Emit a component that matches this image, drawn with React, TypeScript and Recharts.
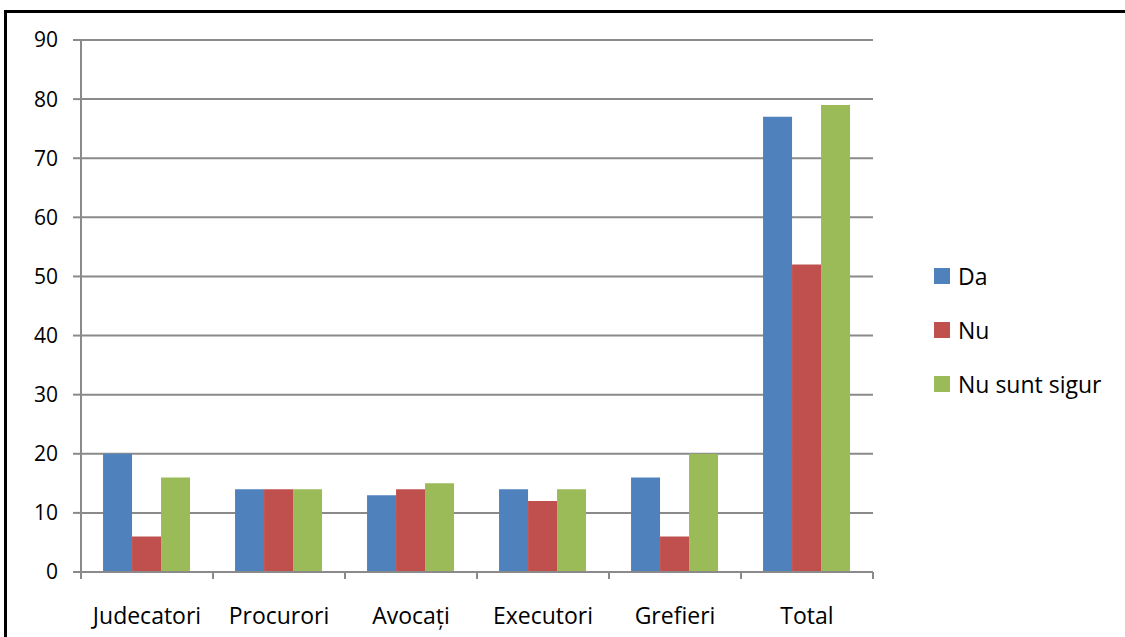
import { BarChart, Bar, XAxis, YAxis, CartesianGrid } from 'recharts'

const categories = ['Judecatori', 'Procurori', 'Avocați', 'Executori', 'Grefieri', 'Total']
const da = [20, 14, 13, 14, 16, 77]
const nu = [6, 14, 14, 12, 6, 52]
const nuSuntSigur = [16, 14, 15, 14, 20, 79]
const yTicks = [0, 10, 20, 30, 40, 50, 60, 70, 80, 90]

const series = [
  { key: 'da', name: 'Da', color: '#4F81BD' },
  { key: 'nu', name: 'Nu', color: '#C0504D' },
  { key: 'nss', name: 'Nu sunt sigur', color: '#9BBB59' },
]

const data = categories.map((c, i) => ({ cat: c, da: da[i], nu: nu[i], nss: nuSuntSigur[i] }))

const font = '"Open Sans", sans-serif'
const gridColor = '#8a8a8a'
const X_TICK_SIZE = 6
const X_TICK_MARGIN = 30

// category label plus a tick mark at the category boundaries (Excel style)
function CatTick(props: any) {
  const { x, y, payload, index, visibleTicksCount } = props
  const half = payload.offset ?? 0
  const axisY = y - X_TICK_SIZE - X_TICK_MARGIN
  const isLast = index === visibleTicksCount - 1
  return (
    <g>
      <line x1={x - half} x2={x - half} y1={axisY} y2={axisY + 7} stroke={gridColor} strokeWidth={2} />
      {isLast && <line x1={x + half} x2={x + half} y1={axisY} y2={axisY + 7} stroke={gridColor} strokeWidth={2} />}
      <text x={x} y={y} dy="0.71em" textAnchor="middle" fill="#000" fontSize={23} fontFamily={font}>
        {payload.value}
      </text>
    </g>
  )
}

function LegendBox() {
  return (
    <div style={{ position: 'absolute', left: 934, top: 249, fontFamily: font, fontSize: 23, color: '#000' }}>
      {series.map(s => (
        <div key={s.key} style={{ display: 'flex', alignItems: 'center', height: 54, whiteSpace: 'nowrap' }}>
          <span style={{ width: 16, height: 16, background: s.color, marginRight: 8, display: 'inline-block' }} />
          <span>{s.name}</span>
        </div>
      ))}
    </div>
  )
}

export default function App() {
  return (
    <div style={{ position: 'fixed', left: 0, top: 0, width: 1125, height: 637, overflow: 'hidden', background: '#fff' }}>
      <div style={{ position: 'absolute', left: 4, top: 10, width: 1130, height: 3, background: '#000' }} />
      <div style={{ position: 'absolute', left: 4, top: 10, width: 3, height: 640, background: '#000' }} />
      <div style={{ position: 'absolute', left: 0, top: 0 }}>
        <BarChart
          width={1125}
          height={637}
          data={data}
          margin={{ top: 40, right: 252, bottom: 0, left: 0 }}
          barCategoryGap="16.7%"
          barGap={0}
        >
          <CartesianGrid vertical={false} stroke={gridColor} strokeWidth={2} />
          <XAxis
            dataKey="cat"
            height={65}
            stroke={gridColor}
            strokeWidth={2}
            tickLine={false}
            tickSize={X_TICK_SIZE}
            tickMargin={X_TICK_MARGIN}
            tick={<CatTick />}
            interval={0}
          />
          <YAxis
            width={81}
            domain={[0, 90]}
            ticks={yTicks}
            tickSize={8}
            tickMargin={15}
            stroke={gridColor}
            strokeWidth={2}
            tick={{ fill: '#000', fontSize: 21, fontFamily: font }}
            interval={0}
          />
          {series.map(s => (
            <Bar key={s.key} dataKey={s.key} name={s.name} fill={s.color} isAnimationActive={false} />
          ))}
        </BarChart>
      </div>
      <LegendBox />
    </div>
  )
}
